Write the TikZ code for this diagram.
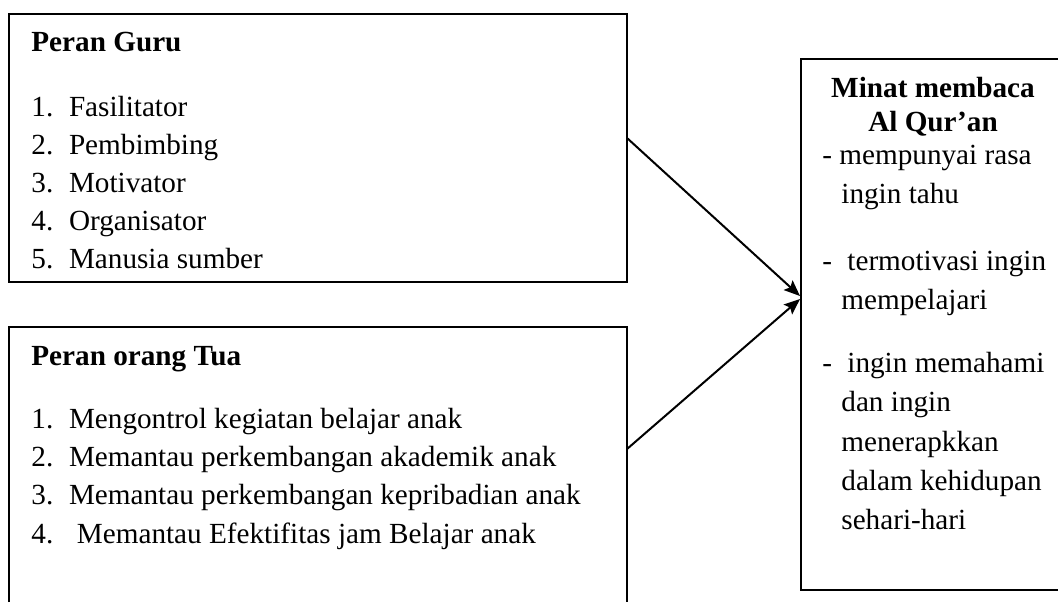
\documentclass[tikz,border=0pt]{standalone}
\usepackage{fontspec}
\setmainfont{Liberation Serif}
\usetikzlibrary{arrows.meta}
\begin{document}
\begin{tikzpicture}[x=0.5pt,y=-0.5pt,
  txt/.style={anchor=base west,inner sep=0pt,font=\fontsize{14.6}{17}\selectfont},
  btxt/.style={txt,font=\fontsize{14.6}{17}\selectfont\bfseries},
  frame/.style={line width=1pt,draw=black},
  conn/.style={line width=1pt,-{Stealth[length=8pt,width=6.5pt,inset=1.5pt]}}]
\useasboundingbox (0,0) rectangle (1058,602);
% boxes
\draw[frame] (9,14) rectangle (627,282);
\draw[frame] (9,602) -- (9,327) -- (627,327) -- (627,602);
\draw[frame] (1058,59) -- (801,59) -- (801,590) -- (1058,590);
% top box text
\node[btxt] (g0) at (31,51) {Peran Guru};
\node[txt] (g1n) at (31,116) {1.}; \node[txt] (g1) at (68.6,116) {Fasilitator};
\node[txt] (g2n) at (31,154) {2.}; \node[txt] (g2) at (68.6,154) {Pembimbing};
\node[txt] (g3n) at (31,192) {3.}; \node[txt] (g3) at (68.6,192) {Motivator};
\node[txt] (g4n) at (31,230) {4.}; \node[txt] (g4) at (68.6,230) {Organisator};
\node[txt] (g5n) at (31,268) {5.}; \node[txt] (g5) at (68.6,268) {Manusia sumber};
% bottom box text
\node[btxt] (t0) at (31,365) {Peran orang Tua};
\node[txt] (t1n) at (31,428.5) {1.}; \node[txt] (t1) at (68.6,428.5) {Mengontrol kegiatan belajar anak};
\node[txt] (t2n) at (31,466.5) {2.}; \node[txt] (t2) at (68.6,466.5) {Memantau perkembangan akademik anak};
\node[txt] (t3n) at (31,504.6) {3.}; \node[txt] (t3) at (68.6,504.6) {Memantau perkembangan kepribadian anak};
\node[txt] (t4n) at (31,543) {4.}; \node[txt] (t4) at (76.5,543) {Memantau Efektifitas jam Belajar anak};
% right box text
\node[btxt,anchor=base] (m0) at (933,97.5) {Minat membaca};
\node[btxt,anchor=base] (m1) at (933,131) {Al Qur’an};
\node[txt] (m2) at (822,164.4) {- mempunyai rasa};
\node[txt] (m3) at (841,203) {ingin tahu};
\node[txt] (m4d) at (822,270) {-}; \node[txt] (m4) at (847,270) {termotivasi ingin};
\node[txt] (m5) at (841,309) {mempelajari};
\node[txt] (m6d) at (822,372) {-}; \node[txt] (m6) at (847,372) {ingin memahami};
\node[txt] (m7) at (841,411) {dan ingin};
\node[txt] (m8) at (841,451) {menerapkkan};
\node[txt] (m9) at (841,490) {dalam kehidupan};
\node[txt] (m10) at (841,529) {sehari-hari};
% connectors
\coordinate (s1) at (627,138);
\coordinate (s2) at (627,449);
\coordinate (e1) at (800,296);
\coordinate (e2) at (800,299);
\draw[conn] (s1) -- (e1);
\draw[conn] (s2) -- (e2);
\end{tikzpicture}
\end{document}
